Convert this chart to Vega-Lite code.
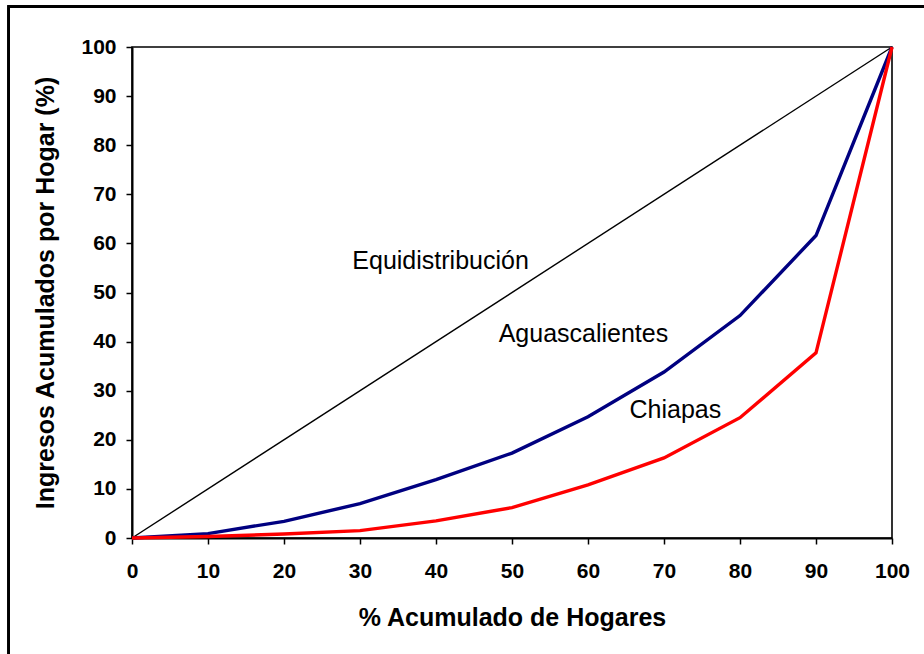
{
  "$schema": "https://vega.github.io/schema/vega-lite/v6.json",
  "width": 760,
  "height": 491,
  "autosize": {"type": "none"},
  "padding": {"left": 132, "top": 47, "right": 32, "bottom": 116},
  "background": "white",
  "config": {
    "view": {"stroke": "black", "strokeWidth": 1.6},
    "font": "Liberation Sans",
    "axis": {
      "grid": false,
      "domainColor": "black",
      "domainWidth": 2,
      "tickColor": "black",
      "tickWidth": 1.5,
      "tickSize": 6,
      "labelFont": "Liberation Sans",
      "labelFontWeight": "bold",
      "labelFontSize": 21,
      "labelColor": "black",
      "titleFont": "Liberation Sans",
      "titleFontWeight": "bold",
      "titleFontSize": 25,
      "titleColor": "black",
      "labelFlush": false,
      "labelOverlap": false
    }
  },
  "data": {
    "values": [
      {"x": 0, "y": 0, "serie": "Equidistribución"},
      {"x": 100, "y": 100, "serie": "Equidistribución"},
      {"x": 0, "y": 0, "serie": "Aguascalientes"},
      {"x": 10, "y": 0.9, "serie": "Aguascalientes"},
      {"x": 20, "y": 3.4, "serie": "Aguascalientes"},
      {"x": 30, "y": 7.0, "serie": "Aguascalientes"},
      {"x": 40, "y": 11.9, "serie": "Aguascalientes"},
      {"x": 50, "y": 17.3, "serie": "Aguascalientes"},
      {"x": 60, "y": 24.7, "serie": "Aguascalientes"},
      {"x": 70, "y": 33.8, "serie": "Aguascalientes"},
      {"x": 80, "y": 45.3, "serie": "Aguascalientes"},
      {"x": 90, "y": 61.6, "serie": "Aguascalientes"},
      {"x": 100, "y": 100, "serie": "Aguascalientes"},
      {"x": 0, "y": 0, "serie": "Chiapas"},
      {"x": 10, "y": 0.3, "serie": "Chiapas"},
      {"x": 20, "y": 0.8, "serie": "Chiapas"},
      {"x": 30, "y": 1.5, "serie": "Chiapas"},
      {"x": 40, "y": 3.5, "serie": "Chiapas"},
      {"x": 50, "y": 6.2, "serie": "Chiapas"},
      {"x": 60, "y": 10.8, "serie": "Chiapas"},
      {"x": 70, "y": 16.3, "serie": "Chiapas"},
      {"x": 80, "y": 24.5, "serie": "Chiapas"},
      {"x": 90, "y": 37.7, "serie": "Chiapas"},
      {"x": 100, "y": 100, "serie": "Chiapas"}
    ]
  },
  "layer": [
    {
      "mark": {"type": "rect", "fill": null, "stroke": "black", "strokeWidth": 2, "clip": false},
      "encoding": {
        "x": {"datum": -16.2, "type": "quantitative", "scale": {"domain": [0, 100], "nice": false}},
        "x2": {"datum": 115},
        "y": {"datum": 108.3, "type": "quantitative", "scale": {"domain": [0, 100], "nice": false}},
        "y2": {"datum": -30}
      }
    },
    {
      "transform": [{"filter": "datum.serie === 'Equidistribución'"}],
      "mark": {"type": "line", "color": "black", "strokeWidth": 1.4},
      "encoding": {
        "x": {
          "field": "x", "type": "quantitative",
          "scale": {"domain": [0, 100], "nice": false},
          "axis": {"values": [0, 10, 20, 30, 40, 50, 60, 70, 80, 90, 100], "title": "% Acumulado de Hogares", "labelPadding": 16, "titlePadding": 24}
        },
        "y": {
          "field": "y", "type": "quantitative",
          "scale": {"domain": [0, 100], "nice": false},
          "axis": {"values": [0, 10, 20, 30, 40, 50, 60, 70, 80, 90, 100], "title": "Ingresos Acumulados por Hogar (%)", "labelPadding": 10, "titlePadding": 22}
        }
      }
    },
    {
      "transform": [{"filter": "datum.serie === 'Aguascalientes'"}],
      "mark": {"type": "line", "color": "#000080", "strokeWidth": 3.4},
      "encoding": {
        "x": {"field": "x", "type": "quantitative"},
        "y": {"field": "y", "type": "quantitative"}
      }
    },
    {
      "transform": [{"filter": "datum.serie === 'Chiapas'"}],
      "mark": {"type": "line", "color": "#ff0000", "strokeWidth": 3.4},
      "encoding": {
        "x": {"field": "x", "type": "quantitative"},
        "y": {"field": "y", "type": "quantitative"}
      }
    },
    {
      "data": {
        "values": [
          {"label": "Equidistribución", "lx": 40.6, "ly": 54.8},
          {"label": "Aguascalientes", "lx": 59.4, "ly": 39.9},
          {"label": "Chiapas", "lx": 71.5, "ly": 24.5}
        ]
      },
      "mark": {"type": "text", "font": "Liberation Sans", "fontSize": 25, "color": "black", "align": "center", "baseline": "alphabetic"},
      "encoding": {
        "x": {"field": "lx", "type": "quantitative"},
        "y": {"field": "ly", "type": "quantitative"},
        "text": {"field": "label"}
      }
    }
  ]
}
